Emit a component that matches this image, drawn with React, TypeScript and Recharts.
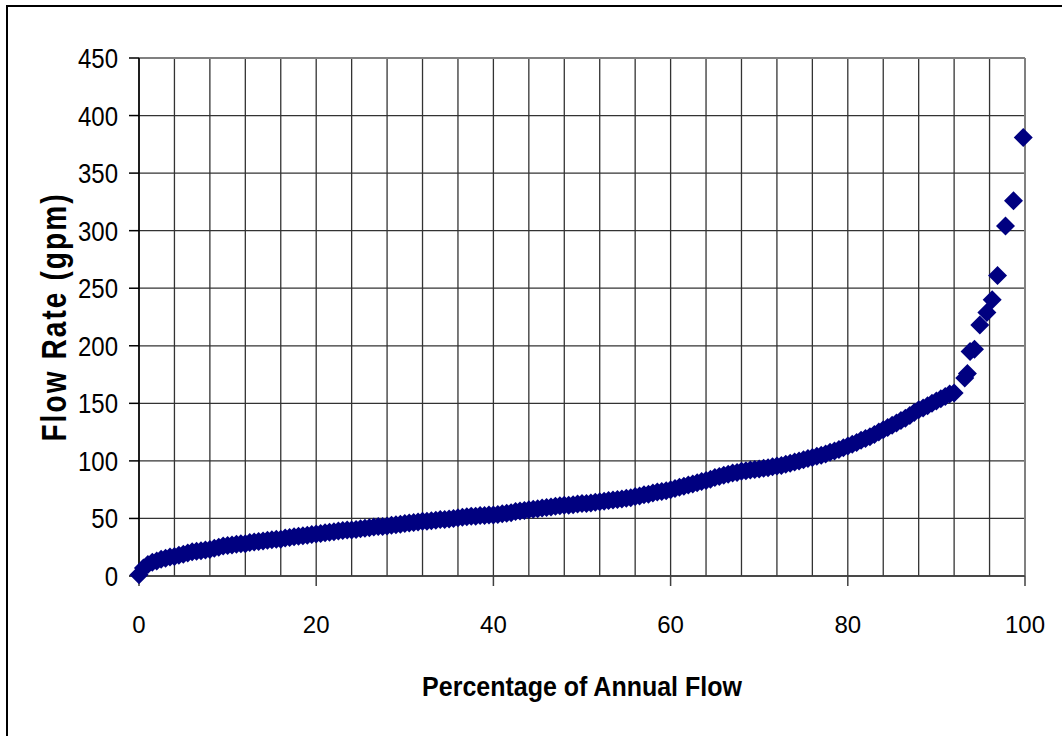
import { ScatterChart, Scatter, XAxis, YAxis, CartesianGrid, ReferenceLine, Label } from 'recharts';

// percentage of annual flow (x)
const percent = [
    0, 0.5, 1, 1.5, 2, 2.5, 3, 3.5, 4, 4.5,
    5, 5.5, 6, 6.5, 7, 7.5, 8, 8.5, 9, 9.5,
    10, 10.5, 11, 11.5, 12, 12.5, 13, 13.5, 14, 14.5,
    15, 15.5, 16, 16.5, 17, 17.5, 18, 18.5, 19, 19.5,
    20, 20.5, 21, 21.5, 22, 22.5, 23, 23.5, 24, 24.5,
    25, 25.5, 26, 26.5, 27, 27.5, 28, 28.5, 29, 29.5,
    30, 30.5, 31, 31.5, 32, 32.5, 33, 33.5, 34, 34.5,
    35, 35.5, 36, 36.5, 37, 37.5, 38, 38.5, 39, 39.5,
    40, 40.5, 41, 41.5, 42, 42.5, 43, 43.5, 44, 44.5,
    45, 45.5, 46, 46.5, 47, 47.5, 48, 48.5, 49, 49.5,
    50, 50.5, 51, 51.5, 52, 52.5, 53, 53.5, 54, 54.5,
    55, 55.5, 56, 56.5, 57, 57.5, 58, 58.5, 59, 59.5,
    60, 60.5, 61, 61.5, 62, 62.5, 63, 63.5, 64, 64.5,
    65, 65.5, 66, 66.5, 67, 67.5, 68, 68.5, 69, 69.5,
    70, 70.5, 71, 71.5, 72, 72.5, 73, 73.5, 74, 74.5,
    75, 75.5, 76, 76.5, 77, 77.5, 78, 78.5, 79, 79.5,
    80, 80.5, 81, 81.5, 82, 82.5, 83, 83.5, 84, 84.5,
    85, 85.5, 86, 86.5, 87, 87.5, 88, 88.5, 89, 89.5,
    90, 90.5, 91, 91.5, 92,
    93.2, 93.5, 93.8, 94.3, 94.9, 95.7, 96.3, 96.9, 97.8, 98.7, 99.8,
];

// flow rate in gpm, same order
const flow = [
    1, 7, 10, 12, 13, 14.5, 15.5, 16.5, 17, 18,
    19, 20, 21, 21.5, 22, 22.5, 23, 24, 25, 26,
    26.5, 27, 27.5, 28, 28, 29, 29.5, 30, 30.5, 31,
    31.5, 32, 32, 33, 33.5, 34, 34.5, 35, 35.5, 36,
    36.5, 37, 37.5, 38, 38.5, 39, 39.5, 40, 40, 40.5,
    41, 41.5, 42, 42.5, 43, 43, 43.5, 44, 44.5, 45,
    45.5, 46, 46.5, 47, 47.5, 47.5, 48, 48.5, 49, 49,
    49.5, 50, 50.5, 51, 51.5, 52, 52, 52.5, 52.5, 53,
    53, 53.5, 54, 54.5, 55, 56, 56.5, 57, 57.5, 58,
    58.5, 59, 59.5, 60, 60.5, 61, 61.5, 61.5, 62, 62.5,
    63, 63, 63.5, 64, 64.5, 65, 65.5, 66, 66.5, 67,
    67.5, 68, 69, 69.5, 70.5, 71, 72, 73, 73.5, 74,
    75, 76, 77, 78, 79, 80, 81, 82, 83, 84,
    85.5, 86.5, 87.5, 88.5, 89.5, 90, 91, 91.5, 92, 92.5,
    93, 93.5, 94, 95, 95.5, 96, 97, 98, 99, 100,
    101, 102, 103, 104, 105, 106, 107.5, 108.5, 110, 111.5,
    113, 114.5, 116, 118, 119.5, 121, 123, 125, 127, 129,
    131, 133, 135, 137, 139.5, 142, 144.5, 146, 148, 150,
    152, 154, 156, 158, 159,
    172, 176, 195, 197, 218, 229, 240, 261, 304, 326, 381,
];

const xTicks = [0, 20, 40, 60, 80, 100];
const xGridTicks = [0, 4, 8, 12, 16, 20, 24, 28, 32, 36, 40, 44, 48, 52, 56, 60, 64, 68, 72, 76, 80, 84, 88, 92, 96, 100];
const yTicks = [0, 50, 100, 150, 200, 250, 300, 350, 400, 450];

const points = percent.map((p, i) => ({ pct: p, gpm: flow[i] }));

const FONT = '"Liberation Sans", Arial, sans-serif';

const Diamond = (props: any) => {
    const { cx, cy } = props;
    const r = 9.5;
    return (
        <polygon
            points={`${cx},${cy - r} ${cx + r},${cy} ${cx},${cy + r} ${cx - r},${cy}`}
            fill="#000080"
        />
    );
};

// y tick labels are a bit taller than wide in the original
const YTick = (props: any) => {
    const { x, y, payload } = props;
    return (
        <text
            x={x}
            y={y}
            dy="0.355em"
            textAnchor="end"
            fontFamily={FONT}
            fontSize={24}
            fill="#000"
            transform={`translate(${x} ${y}) scale(1 1.18) translate(${-x} ${-y})`}
        >
            {payload.value}
        </text>
    );
};

// grid every 4 %, labels only every 20 %
const gridX = ({ xAxis, offset }: any) =>
    xGridTicks.map((t) =>
        xAxis && typeof xAxis.scale === 'function'
            ? xAxis.scale(t)
            : offset.left + (t / 100) * offset.width
    );

const FlowDurationChart = () => {
    return (
        <div style={{ position: 'absolute', left: 0, top: 0, width: 1062, height: 736, overflow: 'hidden', background: '#fff' }}>
            <div style={{ position: 'absolute', left: 6, top: 5, width: 1100, height: 800, border: '2px solid #000' }} />
            <div style={{ position: 'absolute', left: 0, top: 0 }}>
                <ScatterChart width={1062} height={736} margin={{ top: 58, right: 37, bottom: 0, left: 0 }}>
                    <CartesianGrid stroke="#333" strokeWidth={1.3} verticalCoordinatesGenerator={gridX} />
                    <XAxis
                        type="number"
                        dataKey="pct"
                        domain={[0, 100]}
                        ticks={xTicks}
                        interval={0}
                        height={160}
                        tickSize={10}
                        tickMargin={30}
                        stroke="#404040"
                        strokeWidth={1.5}
                        tick={{ fill: '#000', fontSize: 24, fontFamily: FONT }}
                    >
                        <Label
                            content={({ viewBox }: any) => {
                                const tx = viewBox.x + viewBox.width / 2;
                                const ty = viewBox.y + 120;
                                return (
                                    <text
                                        x={tx}
                                        y={ty}
                                        textAnchor="middle"
                                        fontFamily={FONT}
                                        fontWeight="bold"
                                        fontSize={25}
                                        fill="#000"
                                        transform={`translate(${tx} ${ty}) scale(1 1.1) translate(${-tx} ${-ty})`}
                                    >
                                        Percentage of Annual Flow
                                    </text>
                                );
                            }}
                        />
                    </XAxis>
                    <YAxis
                        type="number"
                        dataKey="gpm"
                        domain={[0, 450]}
                        ticks={yTicks}
                        interval={0}
                        width={139}
                        tickSize={10}
                        tickMargin={11}
                        stroke="#000"
                        strokeWidth={1.5}
                        tick={<YTick />}
                    >
                        <Label
                            content={({ viewBox }: any) => {
                                const cx = viewBox.x + 54;
                                const cy = viewBox.y + viewBox.height / 2;
                                return (
                                    <text
                                        x={cx}
                                        y={cy}
                                        transform={`translate(${cx} ${cy}) rotate(-90) scale(1 1.25) translate(${-cx} ${-cy})`}
                                        textAnchor="middle"
                                        dominantBaseline="central"
                                        fontFamily={FONT}
                                        fontWeight="bold"
                                        fontSize={28}
                                        letterSpacing={2.1}
                                        fill="#000"
                                    >
                                        Flow Rate (gpm)
                                    </text>
                                );
                            }}
                        />
                    </YAxis>
                    <ReferenceLine y={450} stroke="#808080" strokeWidth={2} />
                    <ReferenceLine x={100} stroke="#808080" strokeWidth={2} />
                    <Scatter data={points} shape={<Diamond />} isAnimationActive={false} />
                </ScatterChart>
            </div>
        </div>
    );
};

export default function App() {
    return <FlowDurationChart />;
}
